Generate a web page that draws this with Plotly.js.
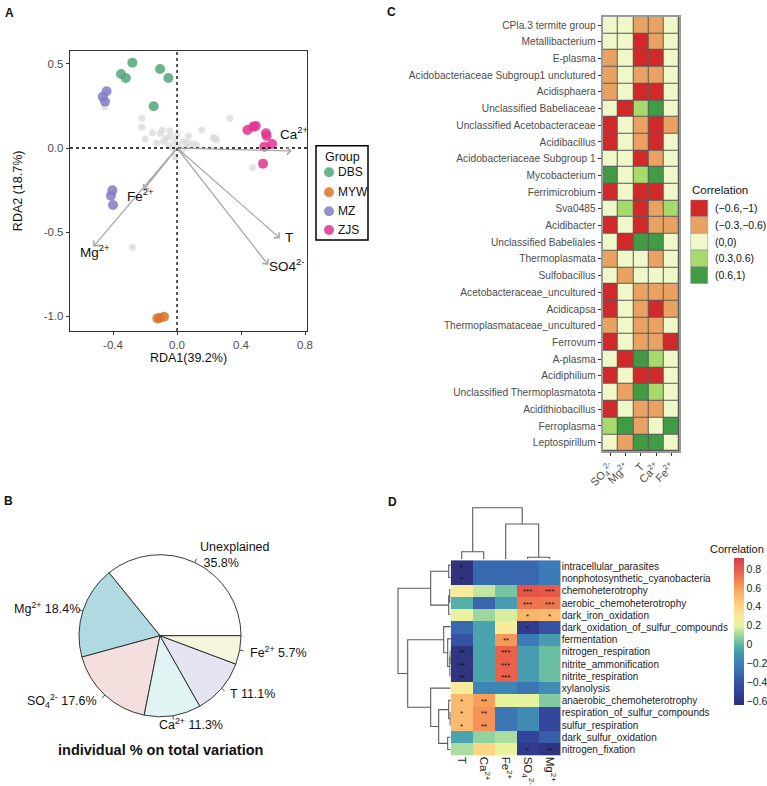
<!DOCTYPE html>
<html><head><meta charset="utf-8">
<script src="https://cdn.plot.ly/plotly-3.0.1.min.js"></script>
<style>body{margin:0;background:#fff}#chart{width:767px;height:786px}</style>
</head><body><div id="chart"></div>
<script>
// ================= DATA =================
// Panel A: RDA sample scores
const dbsX=[-0.279,-0.35,-0.32,-0.106,-0.054,-0.146];
const dbsY=[0.508,0.44,0.417,0.47,0.417,0.248];
const mywX=[-0.123,-0.081,-0.108];
const mywY=[-1.014,-1.004,-1.012];
const mzX=[-0.44,-0.464,-0.45,-0.404,-0.413,-0.4];
const mzY=[0.338,0.305,0.276,-0.252,-0.284,-0.339];
const zjsX=[0.44,0.477,0.492,0.556,0.56,0.594,0.546,0.5375];
const zjsY=[0.107,0.127,0.131,0.0875,0.071,0.024,0.008,-0.093];
// species scores (grey)
const spX=[-0.45,-0.22,0.33,-0.22,-0.2,-0.154,-0.092,-0.044,0.154,0.227,0.248,0.071,0.0,0.473,-0.279,
           -0.106,-0.044,-0.085,-0.0125,0.04,0.07,0.10,0.123,-0.054,0.008,-0.127,0.2375,-0.0125,0.03,-0.03,0.06,-0.07];
const spY=[0.246,0.177,0.177,0.123,0.054,0.091,0.107,0.103,0.107,0.061,0.048,0.071,0.077,-0.117,-0.591,
           0.087,0.067,0.038,0.038,0.038,0.028,0.024,0.018,0.018,0.018,0.028,0.058,-0.052,-0.01,0.0,0.005,0.06];
// environmental vectors
const envNames=['Ca<sup>2+</sup>','T','SO4<sup>2-</sup>','Mg<sup>2+</sup>','Fe<sup>2+</sup>'];
const envX=[0.717,0.644,0.57,-0.523,-0.21];
const envY=[-0.018,-0.5375,-0.696,-0.587,-0.25];
const groupNames=['DBS','MYW','MZ','ZJS'];

// Panel B: variance partition
const pieLabels=['Unexplained<br>\u00a035.8%','Mg<sup>2+</sup> 18.4%','SO<sub>4</sub><sup>2-</sup> 17.6%','Ca<sup>2+</sup> 11.3%','T 11.1%','Fe<sup>2+</sup> 5.7%'];
const pieValues=[35.8,18.4,17.6,11.3,11.1,5.7];

// Panel C: correlation classes
const rowsC=['CPla.3 termite group','Metallibacterium','E-plasma','Acidobacteriaceae Subgroup1 unclutured','Acidisphaera',
 'Unclassified Babeliaceae','Unclassified Acetobacteraceae','Acidibacillus','Acidobacteriaceae Subgroup 1','Mycobacterium',
 'Ferrimicrobium','Sva0485','Acidibacter','Unclassified Babeliales','Thermoplasmata','Sulfobacillus',
 'Acetobacteraceae_uncultured','Acidicapsa','Thermoplasmataceae_uncultured','Ferrovum','A-plasma','Acidiphilium',
 'Unclassified Thermoplasmatota','Acidithiobacillus','Ferroplasma','Leptospirillum'];
const colsC=['SO<sub>4</sub><sup>2-</sup>','Mg<sup>2+</sup>','T','Ca<sup>2+</sup>','Fe<sup>2+</sup>'];
// R=(-0.6,-1) O=(-0.3,-0.6) Y=(0,0) L=(0.3,0.6) G=(0.6,1)
const classC=['YYOOY','YYROY','OYRRY','OYOOY','OYRRY','YRLGY','RYORO','RYORY','YYROY','GYLGY','RYRRY','YLROL','RYROO',
 'YRGGY','OYYOY','YOYYY','RYOOO','RYORO','OYOOY','RYOOR','YRGLY','RYRRY','YOGLY','RYOOY','LGOYG','YOGGY'];
const classKeys=['R','O','Y','L','G'];
const classLabels=['(\u22120.6,\u22121)','(\u22120.3,\u22120.6)','(0,0)','(0.3,0.6)','(0.6,1)'];

// Panel D: functional correlation
const rowsD=['intracellular_parasites','nonphotosynthetic_cyanobacteria','chemoheterotrophy','aerobic_chemoheterotrophy',
 'dark_iron_oxidation','dark_oxidation_of_sulfur_compounds','fermentation','nitrogen_respiration','nitrite_ammonification',
 'nitrite_respiration','xylanolysis','anaerobic_chemoheterotrophy','respiration_of_sulfur_compounds','sulfur_respiration',
 'dark_sulfur_oxidation','nitrogen_fixation'];
const colsD=['T','Ca<sup>2+</sup>','Fe<sup>2+</sup>','SO<sub>4</sub><sup>2-</sup>','Mg<sup>2+</sup>'];
const valsD=[
[-0.62,-0.30,-0.30,-0.30,-0.22],
[-0.62,-0.30,-0.30,-0.30,-0.22],
[0.27,0.15,0.04,0.82,0.80],
[-0.02,-0.32,-0.08,0.72,0.72],
[0.22,0.10,0.18,0.52,0.50],
[-0.30,-0.05,0.27,-0.56,-0.40],
[-0.40,-0.05,0.62,-0.22,-0.08],
[-0.60,-0.05,0.78,-0.08,0.02],
[-0.60,-0.05,0.78,-0.08,0.02],
[-0.60,-0.05,0.78,-0.08,0.02],
[0.27,-0.18,-0.18,-0.25,-0.15],
[0.50,0.60,0.20,0.20,0.06],
[0.50,0.64,-0.25,-0.15,-0.48],
[0.50,0.64,-0.25,-0.15,-0.48],
[-0.05,0.08,0.12,-0.50,-0.35],
[0.12,0.40,0.22,-0.56,-0.60]];
const starsD=[
['*','','','',''],['*','','','',''],['','','','***','***'],['','','','***','***'],['','','','*','*'],
['','','','*',''],['','','**','',''],['**','','***','',''],['**','','***','',''],['**','','***','',''],
['','','','',''],['*','**','','',''],['*','**','','',''],['*','**','','',''],['','','','',''],['','','','*','**']];
// dendrograms: [a, b, height]; a,b >=0 leaf index, negative = -(merge number)
const colMerges=[[0,1,0.73],[3,4,0.17],[2,-2,3.5],[-1,-3,5.13]];
const rowMerges=[[0,1,0.2],[2,3,0.1],[4,-2,0.2],[-1,-3,2.0],[7,8,0.05],[9,-5,0.08],[6,-6,0.3],[5,-7,0.7],
 [12,13,0.05],[11,-9,0.2],[14,15,0.3],[-10,-11,1.2],[10,-12,2.0],[-8,-13,4.3],[-4,-14,5.27]];

// ================= STYLE =================
const W=767,H=786;
const X=px=>px/W, Y=py=>1-py/H;
const FONT='Liberation Sans, Arial, sans-serif';
const grpColors=['#4fa679','#dc7329','#837cc2','#e2338f'];
const pieColors=['#ffffff','#b1d9e1','#f4dfdf','#e0f4f3','#e4e4f3','#f5f5dd'];
const classColors=['#d1282a','#e9a262','#f0f7c9','#a6da6a','#3f9c45'];
const scaleD=[[0,'#2e3077'],[0.09,'#33429a'],[0.154,'#3653a3'],[0.282,'#3b80b9'],[0.378,'#4aa3ad'],[0.41,'#5cb8a4'],
 [0.474,'#9dd6a0'],[0.538,'#e7f49e'],[0.603,'#fde89a'],[0.667,'#fdd684'],[0.795,'#f7a05b'],[0.923,'#e75a47'],[1,'#d53e4f']];

const traces=[];
const annotations=[];
const shapes=[];

// ----- Panel A
traces.push({type:'scatter',mode:'markers',x:spX,y:spY,xaxis:'x',yaxis:'y',showlegend:false,hoverinfo:'skip',
  marker:{color:'#d9d9d9',size:7,opacity:0.75}});
[[dbsX,dbsY],[mywX,mywY],[mzX,mzY],[zjsX,zjsY]].forEach(([xs,ys],g)=>{
  traces.push({type:'scatter',mode:'markers',name:groupNames[g],x:xs,y:ys,xaxis:'x',yaxis:'y',showlegend:false,hoverinfo:'skip',
    marker:{color:grpColors[g],size:10,opacity:0.85}});
});
shapes.push({type:'line',xref:'x domain',yref:'y',x0:0,x1:1,y0:0,y1:0,line:{color:'#000',width:1.3,dash:'dot'}});
shapes.push({type:'line',xref:'x',yref:'y domain',x0:0,x1:0,y0:0,y1:1,line:{color:'#000',width:1.3,dash:'dot'}});
const envAnchor=['left','left','left','left','left'];
const envShift=[[-14,18],[3,1],[-1,0],[-15,-4],[-18,-5]];
envX.forEach((vx,i)=>{
  annotations.push({xref:'x',yref:'y',axref:'x',ayref:'y',x:vx,y:envY[i],ax:0,ay:0,text:'',showarrow:true,
    arrowhead:4,arrowsize:1.1,arrowwidth:1.3,arrowcolor:'#a8a8a8',standoff:0,startstandoff:0});
  annotations.push({xref:'x',yref:'y',x:vx,y:envY[i],text:envNames[i],showarrow:false,xanchor:envAnchor[i],yanchor:'middle',
    xshift:envShift[i][0],yshift:envShift[i][1],font:{size:13.5,color:'#111',family:FONT}});
});
// manual legend box for groups
shapes.push({type:'rect',xref:'paper',yref:'paper',x0:X(316),x1:X(368),y0:Y(240),y1:Y(145.7),line:{color:'#000',width:1.5},fillcolor:'#fff'});
annotations.push({xref:'paper',yref:'paper',x:X(323),y:Y(157),text:'Group',showarrow:false,xanchor:'left',yanchor:'middle',
  font:{size:12.5,color:'#111',family:FONT}});
const legYs=[172.3,192.2,211.3,230];
groupNames.forEach((n,g)=>{
  shapes.push({type:'circle',xref:'paper',yref:'paper',xsizemode:'pixel',ysizemode:'pixel',xanchor:X(329),yanchor:Y(legYs[g]),
    x0:-5,x1:5,y0:-5,y1:5,fillcolor:grpColors[g],opacity:0.85,line:{width:0}});
  annotations.push({xref:'paper',yref:'paper',x:X(335.5),y:Y(legYs[g]),text:n,showarrow:false,xanchor:'left',yanchor:'middle',
    font:{size:12,color:'#111',family:FONT}});
});

// ----- Panel B
const cx=160, cy=635.7, r=81;
const total=pieValues.reduce((a,b)=>a+b,0);
traces.push({type:'pie',labels:pieLabels,values:pieValues,sort:false,direction:'counterclockwise',
  rotation:90-360*pieValues[0]/total,
  textinfo:'none',hoverinfo:'skip',showlegend:false,
  marker:{colors:pieColors,line:{color:'#222',width:0.9}},
  domain:{x:[X(cx-r),X(cx+r)],y:[Y(cy+r),Y(cy-r)]}});
const pieNudge=[0,7,0,-17,0,0];
let cum=0;
pieValues.forEach((v,i)=>{
  const th=2*Math.PI*(cum+v/2)/total; cum+=v;
  const c=Math.cos(th), s=Math.sin(th);
  shapes.push({type:'line',xref:'paper',yref:'paper',x0:X(cx+r*c),y0:Y(cy-r*s),x1:X(cx+1.05*r*c),y1:Y(cy-1.05*r*s),
    line:{color:'#222',width:0.8}});
  annotations.push({xref:'paper',yref:'paper',x:X(cx+1.1*r*c+pieNudge[i]),y:Y(cy-1.1*r*s),text:pieLabels[i],showarrow:false,
    xanchor:c>0?'left':'right',yanchor:'middle',align:'left',font:{size:12.5,color:'#111',family:FONT}});
});
annotations.push({xref:'paper',yref:'paper',x:X(160),y:Y(750),text:'<b>individual % on total variation</b>',showarrow:false,
  xanchor:'center',yanchor:'middle',font:{size:14.5,color:'#111',family:FONT}});

// ----- Panel C
const zC=classC.map(row=>row.split('').map(k=>classKeys.indexOf(k)+1));
const csC=[];
classColors.forEach((col,i)=>{csC.push([i/5,col]);csC.push([(i+1)/5,col]);});
shapes.push({type:'rect',xref:'x2 domain',yref:'y2 domain',x0:0,x1:1,y0:0,y1:1,fillcolor:'#5a5a5a',line:{width:0},layer:'below'});
traces.push({type:'heatmap',x:[0,1,2,3,4],y:rowsC,z:zC,xaxis:'x2',yaxis:'y2',colorscale:csC,zmin:0.5,zmax:5.5,
  showscale:false,xgap:1,ygap:1,hoverinfo:'skip'});
annotations.push({xref:'paper',yref:'paper',x:X(690),y:Y(190),text:'Correlation',showarrow:false,xanchor:'left',yanchor:'middle',
  font:{size:11.5,color:'#111',family:FONT}});
classLabels.forEach((lab,i)=>{
  const top=200+16.7*i;
  shapes.push({type:'rect',xref:'paper',yref:'paper',x0:X(690.7),x1:X(707.7),y0:Y(top+16.7),y1:Y(top),
    fillcolor:classColors[i],line:{color:'#888',width:0.5}});
  annotations.push({xref:'paper',yref:'paper',x:X(713),y:Y(top+8.35),text:lab,showarrow:false,xanchor:'left',yanchor:'middle',
    font:{size:10.5,color:'#111',family:FONT}});
});

// ----- Panel D
traces.push({type:'heatmap',x:[0,1,2,3,4],y:rowsD,z:valsD,xaxis:'x3',yaxis:'y3',colorscale:scaleD,zmin:-0.64,zmax:0.92,hoverinfo:'skip',
  colorbar:{x:X(734),xanchor:'left',y:Y(557.7),yanchor:'top',len:(705-557.7)/H,lenmode:'fraction',thickness:9.5,
    outlinewidth:0,ticks:'',tickvals:[-0.6,-0.4,-0.2,0,0.2,0.4,0.6,0.8],ticktext:['\u22120.6','\u22120.4','\u22120.2','0','0.2','0.4','0.6','0.8'],
    tickfont:{size:10.5,color:'#222',family:FONT},ypad:0,xpad:0}});
starsD.forEach((row,i)=>row.forEach((st,j)=>{
  if(st) annotations.push({xref:'x3',yref:'y3',x:j,y:rowsD[i],text:st,showarrow:false,xanchor:'center',yanchor:'middle',
    yshift:-1,font:{size:8,color:'#111',family:FONT}});
}));
annotations.push({xref:'paper',yref:'paper',x:X(737),y:Y(548.5),text:'Correlation',showarrow:false,xanchor:'center',yanchor:'middle',
  font:{size:11,color:'#111',family:FONT}});

function dendro(merges){
  const pos=[],hts=[],p=[],h=[];
  merges.forEach(([a,b,ht])=>{
    const pa=a>=0?a:pos[-a-1], ha=a>=0?0:hts[-a-1];
    const pb=b>=0?b:pos[-b-1], hb=b>=0?0:hts[-b-1];
    p.push(pa,pa,pb,pb,null); h.push(ha,ht,ht,hb,null);
    pos.push((pa+pb)/2); hts.push(ht);
  });
  return {p,h};
}
const cd=dendro(colMerges);
traces.push({type:'scatter',mode:'lines',x:cd.p,y:cd.h,xaxis:'x4',yaxis:'y4',showlegend:false,hoverinfo:'skip',
  line:{color:'#5a5a5a',width:1.1}});
const rd=dendro(rowMerges);
traces.push({type:'scatter',mode:'lines',x:rd.h,y:rd.p,xaxis:'x5',yaxis:'y5',showlegend:false,hoverinfo:'skip',
  line:{color:'#5a5a5a',width:1.1}});

// panel letters
[['A',9,13],['B',8.5,501],['C',391.5,12],['D',392.5,502]].forEach(([t,px,py])=>{
  annotations.push({xref:'paper',yref:'paper',x:X(px),y:Y(py),text:'<b>'+t+'</b>',showarrow:false,xanchor:'center',yanchor:'middle',
    font:{size:12,color:'#111',family:FONT}});
});

const hidden={visible:false,fixedrange:true};
const layout={
  width:W,height:H,margin:{l:0,r:0,t:0,b:0},paper_bgcolor:'#fff',plot_bgcolor:'rgba(0,0,0,0)',
  font:{family:FONT,color:'#111'},showlegend:false,
  xaxis:{domain:[X(70),X(307)],range:[-0.669,0.8125],tickvals:[-0.4,0,0.4,0.8],ticktext:['-0.4','0.0','0.4','0.8'],
    showline:true,mirror:true,linecolor:'#333',linewidth:1.2,ticks:'outside',ticklen:3,tickcolor:'#333',showgrid:false,zeroline:false,
    tickfont:{size:11.5,color:'#4d4d4d'},title:{text:'RDA1(39.2%)',font:{size:12.5,color:'#111'},standoff:2},anchor:'y'},
  yaxis:{domain:[Y(331),Y(50.7)],range:[-1.089,0.579],tickvals:[-1,-0.5,0,0.5],ticktext:['-1.0','-0.5','0.0','0.5'],
    showline:true,mirror:true,linecolor:'#333',linewidth:1.2,ticks:'outside',ticklen:3,tickcolor:'#333',showgrid:false,zeroline:false,
    tickfont:{size:11.5,color:'#4d4d4d'},title:{text:'RDA2 (18.7%)',font:{size:12.5,color:'#111'},standoff:18},anchor:'x'},
  xaxis2:{domain:[X(602.7),X(679)],range:[-0.5,4.5],tickvals:[0,1,2,3,4],ticktext:colsC,tickangle:-45,anchor:'y2',
    showline:true,mirror:true,linecolor:'#9a9a9a',linewidth:2,ticks:'outside',ticklen:3,tickcolor:'#333',showgrid:false,zeroline:false,
    tickfont:{size:11,color:'#4d4d4d'}},
  yaxis2:{domain:[Y(451),Y(16.7)],type:'category',autorange:'reversed',anchor:'x2',tickvals:rowsC,ticktext:rowsC,
    showline:true,mirror:true,linecolor:'#9a9a9a',linewidth:2,ticks:'outside',ticklen:3,tickcolor:'#333',showgrid:false,zeroline:false,
    tickfont:{size:10.2,color:'#4d4d4d'}},
  xaxis3:{domain:[X(450.7),X(560.7)],range:[-0.5,4.5],tickvals:[0,1,2,3,4],ticktext:colsD,tickangle:90,anchor:'y3',
    showline:false,ticks:'',showgrid:false,zeroline:false,tickfont:{size:11.5,color:'#222'}},
  yaxis3:{domain:[Y(755.7),Y(559)],type:'category',autorange:'reversed',anchor:'x3',side:'right',tickvals:rowsD,ticktext:rowsD,
    showline:false,ticks:'',showgrid:false,zeroline:false,tickfont:{size:10,color:'#222'}},
  xaxis4:Object.assign({domain:[X(450.7),X(560.7)],range:[-0.5,4.5],anchor:'y4'},hidden),
  yaxis4:Object.assign({domain:[Y(559),Y(505.7)],range:[0,5.33],anchor:'x4'},hidden),
  xaxis5:Object.assign({domain:[X(395.3),X(450.7)],range:[5.54,0],anchor:'y5'},hidden),
  yaxis5:Object.assign({domain:[Y(755.7),Y(559)],range:[15.5,-0.5],anchor:'x5'},hidden),
  shapes,annotations,hovermode:false
};
Plotly.newPlot('chart',traces,layout,{displayModeBar:false,staticPlot:true});
</script></body></html>
